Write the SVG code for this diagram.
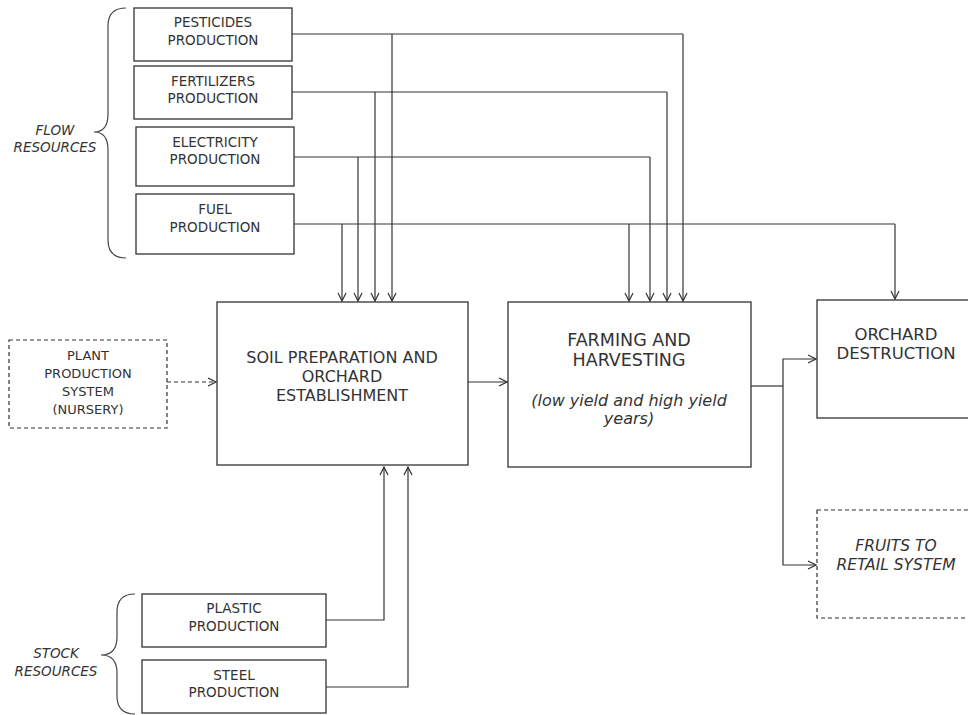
<svg xmlns="http://www.w3.org/2000/svg" width="968" height="715" viewBox="0 0 968 715">
<defs>
<marker id="arr" viewBox="0 0 10 10" markerWidth="10" markerHeight="10" refX="9" refY="5" orient="auto" markerUnits="userSpaceOnUse">
<path d="M1,1 L9,5 L1,9" fill="none" stroke="#333" stroke-width="1.2"/>
</marker>
</defs>
<style>
.box{fill:#fff;stroke:#333;stroke-width:1.3}
.dash{fill:#fff;stroke:#333;stroke-width:1.2;stroke-dasharray:4,3}
.t{font-family:"DejaVu Sans",Verdana,sans-serif;fill:#333;text-anchor:middle}
.s{font-size:13.5px}
.b{font-size:16px}
.i{font-style:italic}
.ln{fill:none;stroke:#333;stroke-width:1.2}
.ar{marker-end:url(#arr)}
.brace{fill:none;stroke:#444;stroke-width:1.2}
</style>
<rect width="968" height="715" fill="#fff"/>

<g id="connectors">
<polyline class="ln" points="292,34 683,34"/>
<polyline class="ln ar" points="392,34 392,301"/>
<polyline class="ln ar" points="683,34 683,301"/>
<polyline class="ln" points="292,92 667,92"/>
<polyline class="ln ar" points="375,92 375,301"/>
<polyline class="ln ar" points="667,92 667,301"/>
<polyline class="ln" points="294,157 650,157"/>
<polyline class="ln ar" points="358,157 358,301"/>
<polyline class="ln ar" points="650,157 650,301"/>
<polyline class="ln" points="294,224 895,224"/>
<polyline class="ln ar" points="342,224 342,301"/>
<polyline class="ln ar" points="629,224 629,301"/>
<polyline class="ln ar" points="895,224 895,299"/>
<line class="ln ar" x1="167" y1="382" x2="216" y2="382" stroke-dasharray="4,3"/>
<line class="ln ar" x1="468" y1="382" x2="507" y2="382"/>
<polyline class="ln" points="751,386 783,386"/>
<polyline class="ln ar" points="783,386 783,359 816,359"/>
<polyline class="ln ar" points="783,386 783,565 816,565"/>
<polyline class="ln ar" points="326,620 384,620 384,467"/>
<polyline class="ln ar" points="326,687 408,687 408,467"/>
</g>

<g id="flow-brace">
<path class="brace" d="M126,8 Q108,8 108,26 L108,114 Q108,132 94,132 Q108,132 108,150 L108,240 Q108,258 126,258"/>
<text class="t s i" x="55" y="135">FLOW</text>
<text class="t s i" x="55" y="152">RESOURCES</text>
</g>

<g id="stock-brace">
<path class="brace" d="M135,594 Q117,594 117,612 L117,637 Q117,655 101,655 Q117,655 117,673 L117,696 Q117,714 135,714"/>
<text class="t s i" x="56" y="658">STOCK</text>
<text class="t s i" x="56" y="676">RESOURCES</text>
</g>

<g id="pesticides">
<rect class="box" x="134" y="8" width="158" height="53"/>
<text class="t s" x="213" y="27">PESTICIDES</text>
<text class="t s" x="213" y="45">PRODUCTION</text>
</g>
<g id="fertilizers">
<rect class="box" x="134" y="66" width="158" height="53"/>
<text class="t s" x="213" y="86">FERTILIZERS</text>
<text class="t s" x="213" y="103">PRODUCTION</text>
</g>
<g id="electricity">
<rect class="box" x="136" y="127" width="158" height="59"/>
<text class="t s" x="215" y="147">ELECTRICITY</text>
<text class="t s" x="215" y="164">PRODUCTION</text>
</g>
<g id="fuel">
<rect class="box" x="136" y="194" width="158" height="60"/>
<text class="t s" x="215" y="214">FUEL</text>
<text class="t s" x="215" y="232">PRODUCTION</text>
</g>

<g id="plant">
<rect class="dash" x="9" y="340" width="158" height="88"/>
<text class="t" font-size="13" x="88" y="360">PLANT</text>
<text class="t" font-size="13" x="88" y="378">PRODUCTION</text>
<text class="t" font-size="13" x="88" y="396">SYSTEM</text>
<text class="t" font-size="13" x="88" y="414">(NURSERY)</text>
</g>

<g id="soil">
<rect class="box" x="217" y="302" width="251" height="163"/>
<text class="t b" x="342" y="363">SOIL PREPARATION AND</text>
<text class="t b" x="342" y="382">ORCHARD</text>
<text class="t b" x="342" y="401">ESTABLISHMENT</text>
</g>

<g id="farming">
<rect class="box" x="508" y="302" width="243" height="165"/>
<text class="t" font-size="17.5" x="629" y="346">FARMING AND</text>
<text class="t" font-size="17.5" x="629" y="366">HARVESTING</text>
<text class="t b i" x="629" y="406">(low yield and high yield</text>
<text class="t b i" x="629" y="424">years)</text>
</g>

<g id="destruction">
<rect class="box" x="817" y="300" width="160" height="118"/>
<text class="t" font-size="16.5" x="896" y="340">ORCHARD</text>
<text class="t" font-size="16.5" x="896" y="359">DESTRUCTION</text>
</g>

<g id="retail">
<rect class="dash" x="817" y="510" width="160" height="108"/>
<text class="t i" font-size="15.5" x="896" y="551">FRUITS TO</text>
<text class="t i" font-size="15.5" x="896" y="570">RETAIL SYSTEM</text>
</g>

<g id="plastic">
<rect class="box" x="142" y="594" width="184" height="53"/>
<text class="t s" x="234" y="613">PLASTIC</text>
<text class="t s" x="234" y="631">PRODUCTION</text>
</g>
<g id="steel">
<rect class="box" x="142" y="660" width="184" height="53"/>
<text class="t s" x="234" y="680">STEEL</text>
<text class="t s" x="234" y="697">PRODUCTION</text>
</g>
</svg>
